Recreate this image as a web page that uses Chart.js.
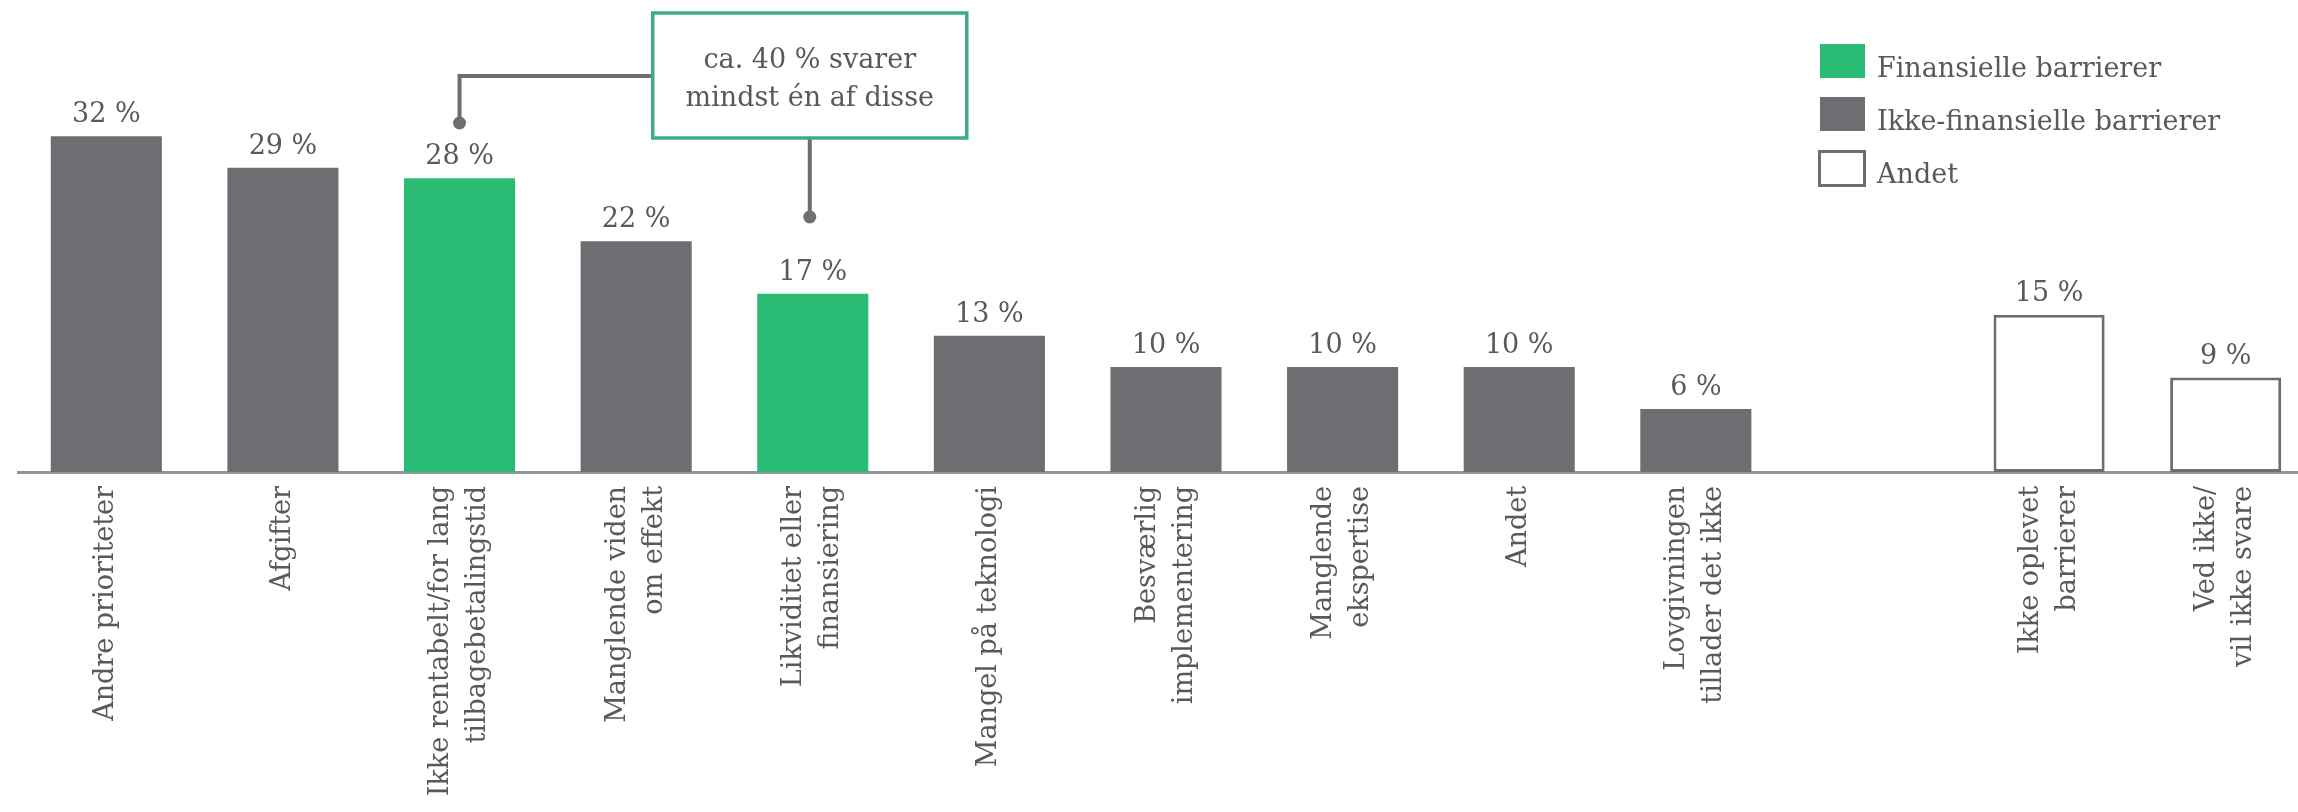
<!DOCTYPE html>
<html lang="da">
<head>
<meta charset="utf-8">
<title>Barrierer</title>
<script src="https://cdn.jsdelivr.net/npm/chart.js@4/dist/chart.umd.min.js"></script>
<style>
  html, body { margin: 0; padding: 0; background: #ffffff; overflow: hidden; width: 2298px; height: 812px; }
  #wrap { position: absolute; left: 0; top: 0; width: 2320px; height: 812px; }
</style>
</head>
<body>
<div id="wrap"><canvas id="chart" width="2320" height="812"></canvas></div>
<script>
// Categories (one empty slot separates the "other" answers)
const categories = [
  ['Andre prioriteter'],
  ['Afgifter'],
  ['Ikke rentabelt/for lang', 'tilbagebetalingstid'],
  ['Manglende viden', 'om effekt'],
  ['Likviditet eller', 'finansiering'],
  ['Mangel på teknologi'],
  ['Besværlig', 'implementering'],
  ['Manglende', 'ekspertise'],
  ['Andet'],
  ['Lovgivningen', 'tillader det ikke'],
  [''],
  ['Ikke oplevet', 'barrierer'],
  ['Ved ikke/', 'vil ikke svare']
];

// Share of respondents (%) per group
const finansielle     = [null, null, 28, null, 17, null, null, null, null, null, null, null, null];
const ikkeFinansielle = [32, 29, null, 22, null, 13, 10, 10, 10, 6, null, null, null];
const andet           = [null, null, null, null, null, null, null, null, null, null, null, 15, 9];

const seriesNames = ['Finansielle barrierer', 'Ikke-finansielle barrierer', 'Andet'];

// Callout text and the categories it points to
const calloutLines = ['ca. 40 % svarer', 'mindst én af disse'];
const calloutTargets = [2, 4];

const GREEN = '#2abb74';
const GREY = '#6d6e72';
const TEAL = '#3daa8c';
const TEXT = '#58595b';
const AXIS = '#949598';
const FONT = '"DejaVu Serif", "Liberation Serif", serif';

// Value labels above each bar
const valueLabels = {
  id: 'valueLabels',
  afterDatasetsDraw(chart) {
    const ctx = chart.ctx;
    ctx.save();
    ctx.font = '27px ' + FONT;
    ctx.fillStyle = TEXT;
    ctx.textAlign = 'center';
    ctx.textBaseline = 'alphabetic';
    chart.data.datasets.forEach((ds, di) => {
      const meta = chart.getDatasetMeta(di);
      meta.data.forEach((el, i) => {
        const v = ds.data[i];
        if (v === null || v === undefined) return;
        ctx.fillText(v + ' %', el.x, el.y - 14);
      });
    });
    ctx.restore();
  }
};

// Rotated, centred multi-line category labels under the axis
const axisLabels = {
  id: 'axisLabels',
  afterDraw(chart) {
    const xs = chart.scales.x;
    const ctx = chart.ctx;
    const lh = 37;
    ctx.save();
    ctx.font = '27px ' + FONT;
    ctx.fillStyle = TEXT;
    ctx.textAlign = 'right';
    ctx.textBaseline = 'middle';
    categories.forEach((lines, i) => {
      const x = xs.getPixelForTick(i);
      const n = lines.length;
      lines.forEach((line, k) => {
        if (!line) return;
        ctx.save();
        ctx.translate(x + (k - (n - 1) / 2) * lh, xs.top + 14);
        ctx.rotate(-Math.PI / 2);
        ctx.fillText(line, 0, 0);
        ctx.restore();
      });
    });
    ctx.restore();
  }
};

// Legend in the upper right corner
const sideLegend = {
  id: 'sideLegend',
  afterDraw(chart) {
    const ctx = chart.ctx;
    const left = 1820, top = 44, w = 45, h = 34, step = 53;
    ctx.save();
    ctx.font = '27px ' + FONT;
    ctx.textAlign = 'left';
    ctx.textBaseline = 'alphabetic';
    chart.data.datasets.forEach((ds, i) => {
      const y = top + i * step;
      if (ds.backgroundColor === '#ffffff') {
        ctx.fillStyle = '#ffffff';
        ctx.fillRect(left, y, w, h);
        ctx.lineWidth = 3;
        ctx.strokeStyle = ds.borderColor;
        ctx.strokeRect(left - 0.5, y + 1.5, w, h);
      } else {
        ctx.fillStyle = ds.backgroundColor;
        ctx.fillRect(left, y, w, h);
      }
      ctx.fillStyle = TEXT;
      ctx.fillText(ds.label, left + 57, y + 33);
    });
    ctx.restore();
  }
};

// Callout box with connectors to the financial barriers
const callout = {
  id: 'callout',
  afterDraw(chart) {
    const xs = chart.scales.x;
    const ctx = chart.ctx;
    const xa = xs.getPixelForValue(calloutTargets[0]);
    const xb = xs.getPixelForValue(calloutTargets[1]);
    const boxW = 314, boxTop = 13, boxBottom = 138;
    const boxLeft = xb - 3 - boxW / 2;
    const cx = boxLeft + boxW / 2;
    ctx.save();
    ctx.strokeStyle = GREY;
    ctx.fillStyle = GREY;
    ctx.lineWidth = 4;
    ctx.beginPath();
    ctx.moveTo(boxLeft, 76);
    ctx.lineTo(xa, 76);
    ctx.lineTo(xa, 123);
    ctx.moveTo(cx, boxBottom);
    ctx.lineTo(cx, 217);
    ctx.stroke();
    ctx.beginPath(); ctx.arc(xa, 123, 6.5, 0, Math.PI * 2); ctx.fill();
    ctx.beginPath(); ctx.arc(cx, 217, 6.5, 0, Math.PI * 2); ctx.fill();

    ctx.fillStyle = '#ffffff';
    ctx.fillRect(boxLeft, boxTop, boxW, boxBottom - boxTop);
    ctx.lineWidth = 3.5;
    ctx.strokeStyle = TEAL;
    ctx.strokeRect(boxLeft, boxTop, boxW, boxBottom - boxTop);

    ctx.font = '27px ' + FONT;
    ctx.fillStyle = TEXT;
    ctx.textAlign = 'center';
    ctx.textBaseline = 'alphabetic';
    ctx.fillText(calloutLines[0], cx, 68);
    ctx.fillText(calloutLines[1], cx, 106);
    ctx.restore();
  }
};

new Chart(document.getElementById('chart'), {
  type: 'bar',
  data: {
    labels: categories,
    datasets: [
      { label: seriesNames[0], data: finansielle, backgroundColor: GREEN, borderWidth: 0 },
      { label: seriesNames[1], data: ikkeFinansielle, backgroundColor: GREY, borderWidth: 0 },
      { label: seriesNames[2], data: andet, backgroundColor: '#ffffff', borderColor: GREY, borderWidth: 3, borderSkipped: false }
    ]
  },
  options: {
    responsive: false,
    animation: false,
    grouped: false,
    categoryPercentage: 1,
    barPercentage: 0.629,
    layout: { padding: { left: 18, right: 6, top: 0, bottom: 0 } },
    plugins: {
      legend: { display: false },
      tooltip: { enabled: false }
    },
    scales: {
      x: {
        type: 'category',
        offset: true,
        grid: { display: false, drawTicks: false },
        border: { display: true, color: AXIS, width: 3 },
        ticks: { display: false },
        afterFit(scale) { scale.height = 340; }
      },
      y: {
        display: false,
        min: 0,
        max: 45
      }
    }
  },
  plugins: [valueLabels, axisLabels, sideLegend, callout]
});
</script>
</body>
</html>
